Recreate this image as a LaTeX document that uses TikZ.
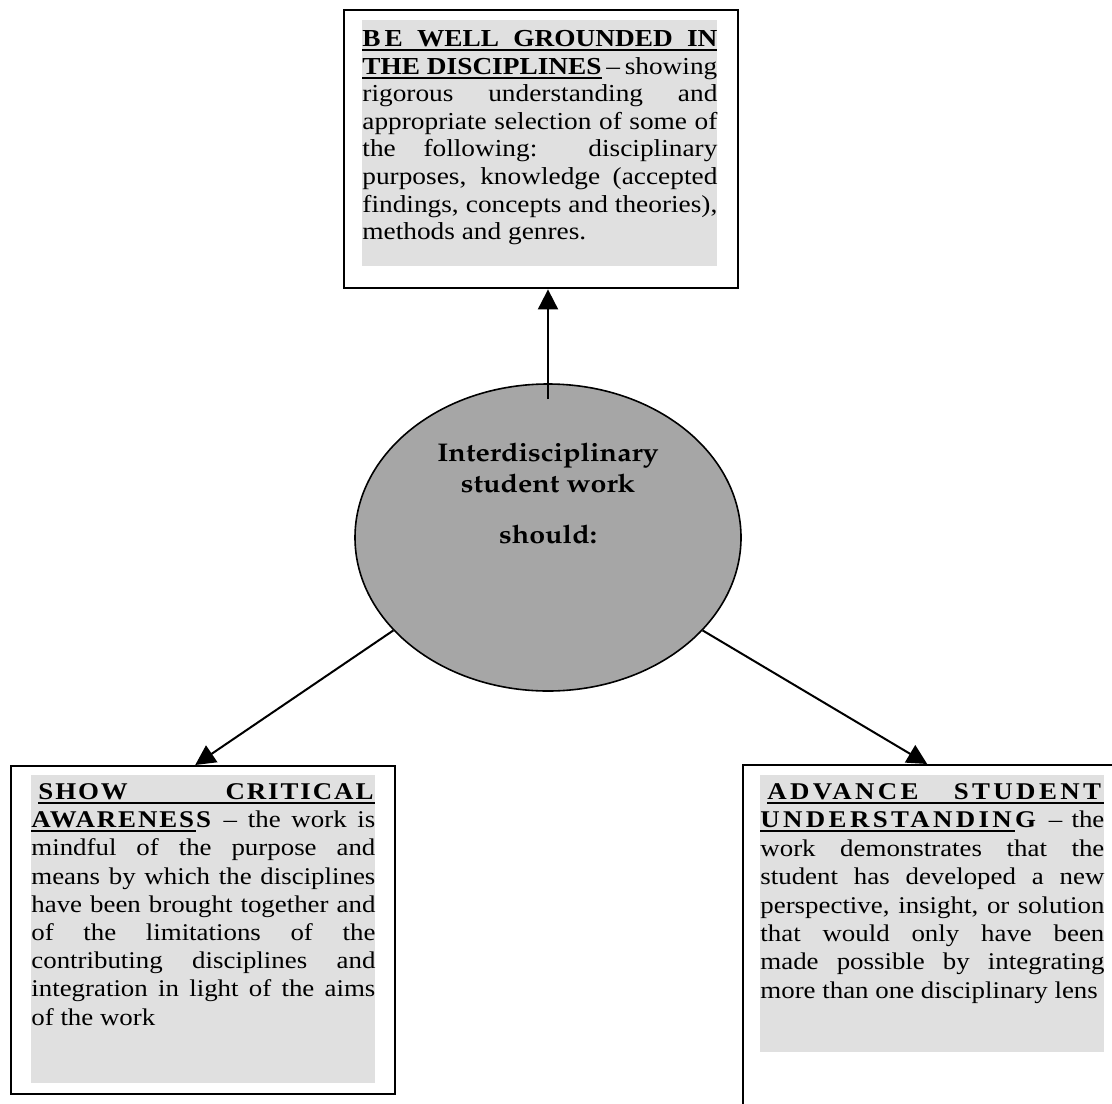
\documentclass[tikz,border=0pt]{standalone}
\usepackage{fontspec}
\usepackage[T1,TU]{fontenc}
\setmainfont{Liberation Serif}[FakeStretch=1.12]
\usepackage{graphicx}
\usepackage{tikz}
\usetikzlibrary{positioning,arrows.meta,shapes.geometric}

\definecolor{sheet}{HTML}{E0E0E0}
\definecolor{hub}{HTML}{A6A6A6}
\newcommand{\hubfont}{\fontencoding{T1}\fontfamily{ppl}\fontseries{b}\fontsize{12.8}{15.5}\selectfont}
\newcommand{\spaced}[1]{\addfontfeature{LetterSpace=#1}}
\newcommand{\ulbar}[1]{\setbox0\hbox{#1}\rlap{\rule[-2.3pt]{\wd0}{1pt}}\box0\relax}

\tikzset{
  card/.style={draw, line width=1.2pt, rectangle, anchor=north west, inner sep=0pt},
  sheetbox/.style={fill=sheet, inner sep=0pt},
  link/.style={line width=1pt, -{Triangle[length=10pt,width=10pt]}}
}

\begin{document}
\begin{tikzpicture}[x=1pt,y=-1pt]
  \useasboundingbox (0,0) rectangle (556,551.5);
  \clip (0,0) rectangle (556,551.5);

  \node[draw, line width=0.8pt, ellipse, fill=hub, minimum width=193pt, minimum height=153.5pt, inner sep=0pt] (core) at (274,268.75) {};
  \node[anchor=north, inner sep=0pt] (coretext) at ([yshift=47.5pt]core.center)
    {\scalebox{1.12}[1]{\parbox{120pt}{\centering\hubfont Interdisciplinary\\student work\\[10pt]should:}}};

  \node[card, minimum width=197pt, minimum height=139pt] (grounded) at (171.5,4.5) {};
  \node[sheetbox, below right=5.5pt and 9.5pt of grounded.north west] (groundedtext)
    {\parbox[t][123pt][t]{177.5pt}{\fontsize{12.2}{13.8}\selectfont
      \rule{0pt}{13pt}\ulbar{\makebox[\linewidth][s]{\textbf{B\,E WELL GROUNDED IN}}}\linebreak
      \ulbar{\textbf{THE DISCIPLINES}} – showing\linebreak
      rigorous understanding and\linebreak
      appropriate selection of some of\linebreak
      the following: disciplinary\linebreak
      purposes, knowledge (accepted\linebreak
      findings, concepts and theories),\linebreak
      methods and genres.}};

  \node[card, minimum width=192pt, minimum height=164pt] (critical) at (5,382.5) {};
  \node[sheetbox, below right=5pt and 10.5pt of critical.north west] (criticaltext)
    {\parbox[t][154pt][t]{172pt}{\fontsize{12}{14.1}\selectfont
      \rule{0pt}{12pt}\hspace*{3.5pt}\ulbar{\makebox[\dimexpr\linewidth-3.5pt][s]{\textbf{\spaced{8}SHOW CRITICAL}}}\linebreak
      \ulbar{\textbf{\spaced{8}AWARENES}}\textbf{\spaced{8}S} – the work is\linebreak
      mindful of the purpose and\linebreak
      means by which the disciplines\linebreak
      have been brought together and\linebreak
      of the limitations of the\linebreak
      contributing disciplines and\linebreak
      integration in light of the aims\linebreak
      of the work}};

  \node[card, minimum width=192pt, minimum height=190pt] (advance) at (371,382) {};
  \node[sheetbox, below right=5.5pt and 9pt of advance.north west] (advancetext)
    {\parbox[t][138.5pt][t]{172pt}{\fontsize{12}{14.2}\selectfont
      \rule{0pt}{12pt}\hspace*{3.5pt}\ulbar{\makebox[\dimexpr\linewidth-3.5pt][s]{\textbf{\spaced{14}ADVANCE STUDENT}}}\linebreak
      \ulbar{\textbf{\spaced{14}UNDERSTANDIN}}\textbf{\spaced{14}G} – the\linebreak
      work demonstrates that the\linebreak
      student has developed a new\linebreak
      perspective, insight, or solution\linebreak
      that would only have been\linebreak
      made possible by integrating\linebreak
      more than one disciplinary lens}};

  \draw[link] ([yshift=-8pt]core.north) -- (core.north |- grounded.south);
  \draw[link] (core.211) -- ([xshift=-4pt]critical.north);
  \draw[link] (core.-31) -- ([xshift=-4pt]advance.north);
\end{tikzpicture}
\end{document}
